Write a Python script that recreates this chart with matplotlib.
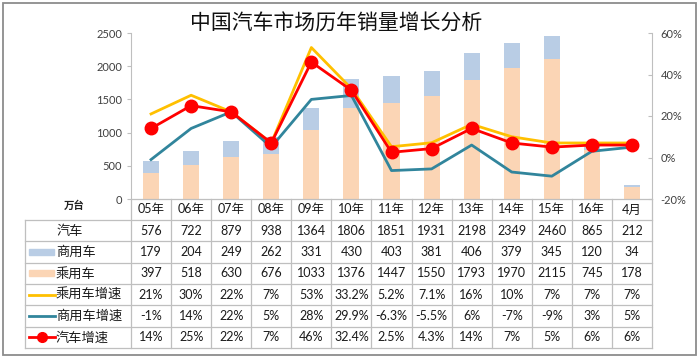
import matplotlib
matplotlib.use('Agg')
import matplotlib.pyplot as plt
from matplotlib.patches import Rectangle
from matplotlib.lines import Line2D

plt.rcParams['font.family'] = ['Lato', 'Noto Sans CJK SC', 'DejaVu Sans']

# --- data ---
periods = ['05年', '06年', '07年', '08年', '09年', '10年', '11年', '12年',
           '13年', '14年', '15年', '16年', '4月']
total = [576, 722, 879, 938, 1364, 1806, 1851, 1931, 2198, 2349, 2460, 865, 212]
commercial = [179, 204, 249, 262, 331, 430, 403, 381, 406, 379, 345, 120, 34]
passenger = [397, 518, 630, 676, 1033, 1376, 1447, 1550, 1793, 1970, 2115, 745, 178]
passenger_growth = ['21%', '30%', '22%', '7%', '53%', '33.2%', '5.2%', '7.1%',
                    '16%', '10%', '7%', '7%', '7%']
commercial_growth = ['-1%', '14%', '22%', '5%', '28%', '29.9%', '-6.3%', '-5.5%',
                     '6%', '-7%', '-9%', '3%', '5%']
total_growth = ['14%', '25%', '22%', '7%', '46%', '32.4%', '2.5%', '4.3%',
                '14%', '7%', '5%', '6%', '6%']


def pct(vals):
    return [float(v.rstrip('%')) / 100 for v in vals]


c_comm = '#B9CDE5'
c_pass = '#FBD5B5'
c_pgrow = '#FFC000'
c_cgrow = '#31859C'
c_tgrow = '#FF0000'
grid_c = '#BFBFBF'
txt_c = '#1a1a1a'

W, H = 698, 357
fig = plt.figure(figsize=(W / 100, H / 100), dpi=100)

# plot area in pixels
x0, x1, y_top, y_bot = 131, 652, 33, 199
ax = fig.add_axes([x0 / W, 1 - y_bot / H, (x1 - x0) / W, (y_bot - y_top) / H])
n = len(periods)
xs = list(range(n))
ax.bar(xs, passenger, width=0.4, color=c_pass, zorder=2)
ax.bar(xs, commercial, width=0.4, bottom=passenger, color=c_comm, zorder=2)
ax.set_xlim(-0.5, n - 0.5)
ax.set_ylim(0, 2500)
ax.set_yticks(range(0, 2501, 500))
ax.set_xticks([])
ax.tick_params(axis='y', labelsize=8, colors='#404040', length=3, width=0.8,
               color=grid_c)
for s in ['top', 'bottom', 'right']:
    ax.spines[s].set_visible(False)
ax.spines['left'].set_color(grid_c)
ax.patch.set_alpha(0)

ax2 = ax.twinx()
ax2.plot(xs, pct(passenger_growth), color=c_pgrow, lw=2, zorder=3)
ax2.plot(xs, pct(commercial_growth), color=c_cgrow, lw=2, zorder=3)
ax2.plot(xs, pct(total_growth), color=c_tgrow, lw=2, marker='o', ms=9, zorder=4)
ax2.set_ylim(-0.2, 0.6)
ax2.set_yticks([-0.2, 0, 0.2, 0.4, 0.6])
ax2.set_yticklabels(['-20%', '0%', '20%', '40%', '60%'])
ax2.tick_params(axis='y', labelsize=8, colors='#404040', length=3, width=0.8,
                color=grid_c, direction='in', pad=6)
for s in ['top', 'bottom', 'left']:
    ax2.spines[s].set_visible(False)
ax2.spines['right'].set_color(grid_c)
ax.text(-0.11, -0.04, '万台', transform=ax.transAxes, fontsize=7.5,
        fontweight='bold', ha='center', va='center', color='#202020')

# --- table overlay in pixel units ---
ov = fig.add_axes([0, 0, 1, 1], zorder=5)
ov.set_xlim(0, W)
ov.set_ylim(H, 0)
ov.axis('off')
ov.patch.set_alpha(0)

col_w = (x1 - x0) / n
lab_x0 = 25
row_top = 220
row_h = (348 - row_top) / 6
rows = [
    ('汽车', [str(v) for v in total], None),
    ('商用车', [str(v) for v in commercial], 'comm'),
    ('乘用车', [str(v) for v in passenger], 'pass'),
    ('乘用车增速', passenger_growth, 'pgrow'),
    ('商用车增速', commercial_growth, 'cgrow'),
    ('汽车增速', total_growth, 'tgrow'),
]

lk = dict(color=grid_c, lw=0.9, zorder=1)
# header row
ov.plot([x0, x1], [y_bot, y_bot], **lk)
for i in range(n + 1):
    ov.plot([x0 + i * col_w] * 2, [y_bot, 348], **lk)
for i, p in enumerate(periods):
    ov.text(x0 + (i + 0.5) * col_w, (y_bot + row_top) / 2, p, fontsize=9,
            ha='center', va='center', color=txt_c)
# body rows
for k in range(7):
    yy = row_top + k * row_h
    ov.plot([lab_x0, x1], [yy, yy], **lk)
ov.plot([lab_x0, lab_x0], [row_top, 348], **lk)

for k, (label, vals, key) in enumerate(rows):
    yc = row_top + (k + 0.5) * row_h
    if key is None:
        ov.text(70, yc, label, fontsize=9.5, ha='center', va='center',
                color=txt_c)
    else:
        if key in ('comm', 'pass'):
            ov.add_patch(Rectangle((29, yc - 3), 25, 6,
                                   color=c_comm if key == 'comm' else c_pass))
        else:
            col = {'pgrow': c_pgrow, 'cgrow': c_cgrow, 'tgrow': c_tgrow}[key]
            ov.add_line(Line2D([29, 55], [yc, yc], color=col, lw=2))
            if key == 'tgrow':
                ov.plot([42], [yc], 'o', color=col, ms=7)
        ov.text(56, yc, label, fontsize=9.5, ha='left', va='center',
                color=txt_c)
    for i, v in enumerate(vals):
        ov.text(x0 + (i + 0.5) * col_w, yc, v, fontsize=9, ha='center',
                va='center', color=txt_c)

# title and outer frame
ov.text(336, 24, '中国汽车市场历年销量增长分析', fontsize=15, ha='center',
        va='center', family=['Noto Sans CJK SC'], color='#101010')
ov.add_patch(Rectangle((2.5, 2.5), W - 5, H - 5, fill=False,
                       edgecolor='#8C8C8C', lw=1.3))

fig.savefig('out.png', dpi=100)
